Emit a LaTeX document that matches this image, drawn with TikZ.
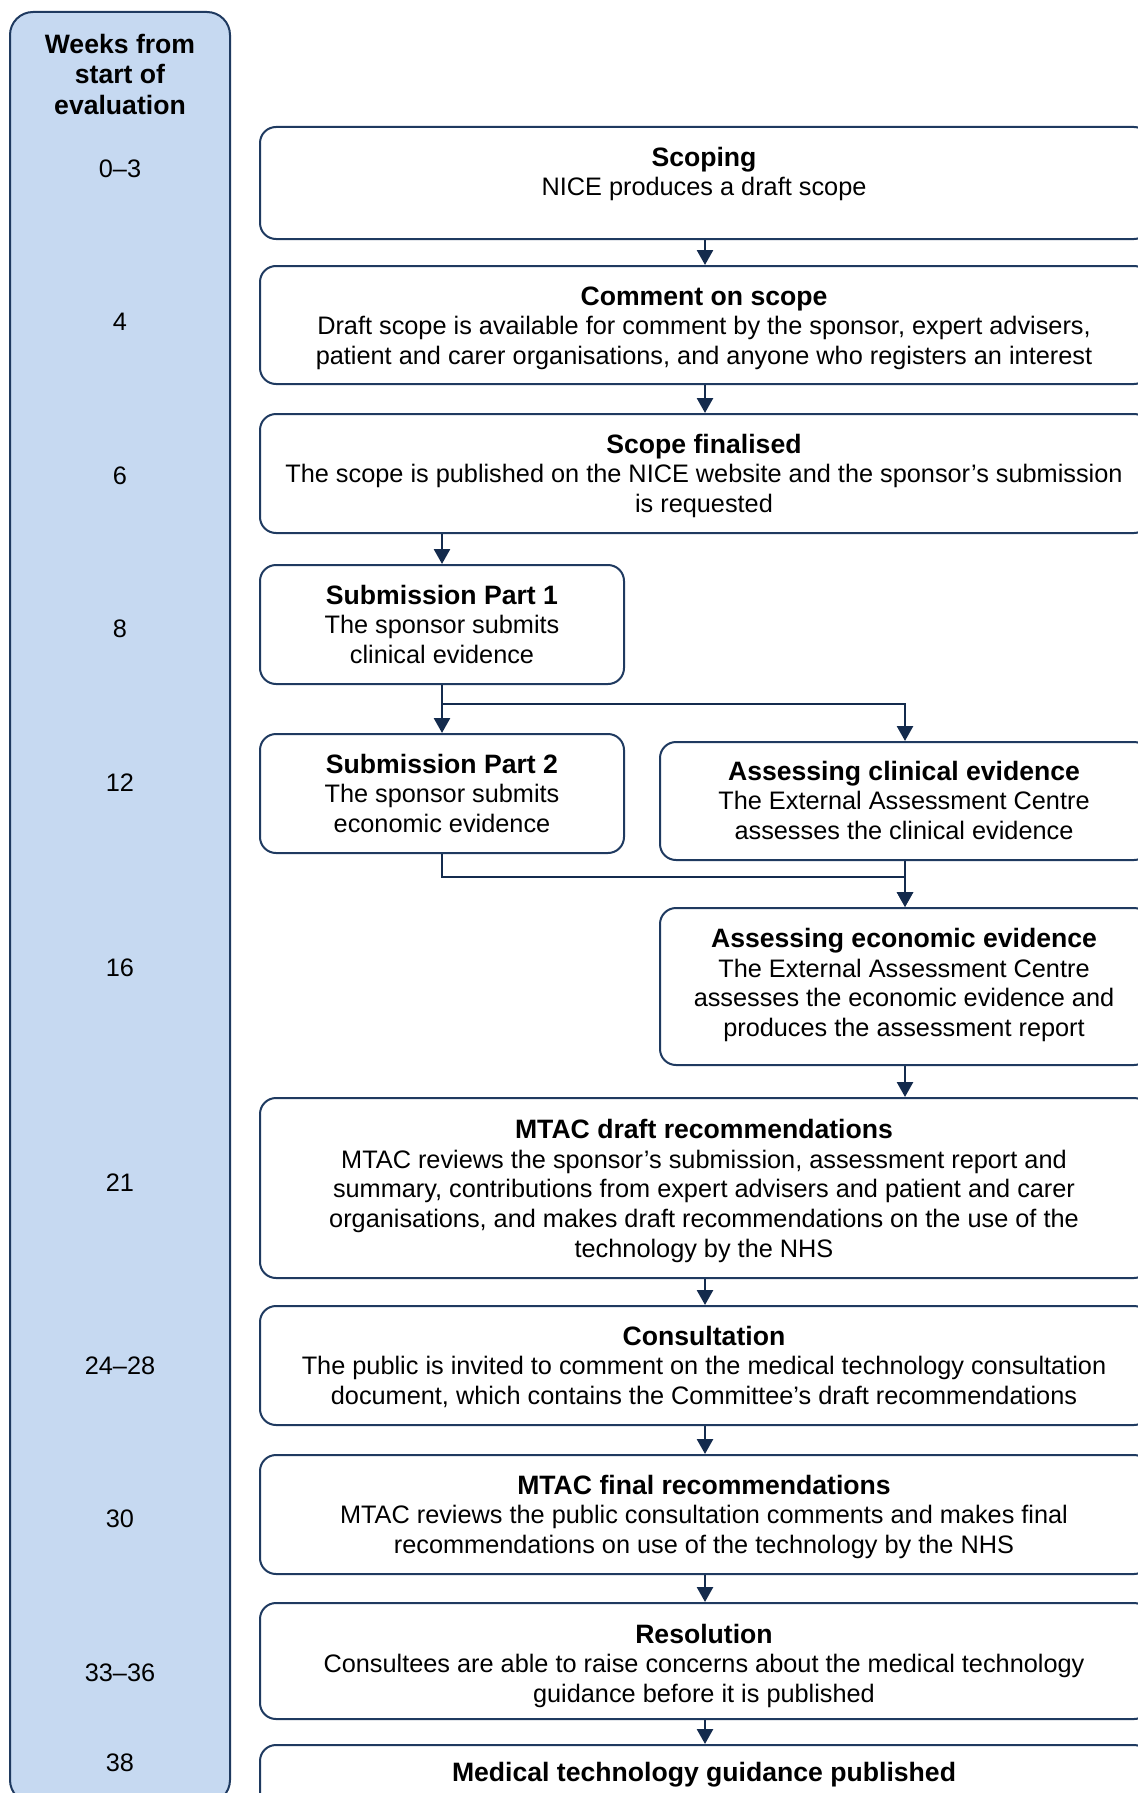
\documentclass[tikz,border=0pt]{standalone}
\usepackage{fontspec}
\setmainfont{Liberation Sans}
\usetikzlibrary{arrows.meta,calc}
\definecolor{navy}{HTML}{1F3A60}
\definecolor{arrowc}{HTML}{142B4D}
\definecolor{colfill}{HTML}{C6D9F1}
\newcommand\boxtitle[1]{{\fontsize{13.3}{14.85}\selectfont\bfseries #1}}
\begin{document}
\begin{tikzpicture}[x=0.5pt,y=-0.5pt,
  font=\fontsize{12.65}{14.85}\selectfont,
  box/.style={draw=navy, line width=1pt, rounded corners=8pt, fill=white, inner sep=0pt},
  colbox/.style={draw=navy, line width=1pt, rounded corners=11.5pt, fill=colfill, inner sep=0pt},
  txt/.style={align=center, anchor=base, inner sep=0pt},
  flow/.style={draw=arrowc, line width=1.35pt, -{Triangle[width=8pt,length=7.5pt]}}]
\useasboundingbox (0,0) rectangle (1137,1793);

% week column
\node[colbox, minimum width=110pt, minimum height=895.5pt] (col) at (120,907.5) {};
\node[txt, font=\bfseries\fontsize{13.3}{15.2}\selectfont] (colhead) at (120,114.3) {Weeks from\\start of\\evaluation};
\node[txt] (w1) at (120,177) {0–3};
\node[txt] (w2) at (120,330) {4};
\node[txt] (w3) at (120,484) {6};
\node[txt] (w4) at (120,637) {8};
\node[txt] (w5) at (120,791) {12};
\node[txt] (w6) at (120,976) {16};
\node[txt] (w7) at (120,1191) {21};
\node[txt] (w8) at (120,1374) {24–28};
\node[txt] (w9) at (120,1527) {30};
\node[txt] (w10) at (120,1681.5) {33–36};
\node[txt] (w11) at (120,1771.5) {38};

% boxes
\node[box, minimum width=445pt, minimum height=56pt] (scope) at (705,183) {};
\node[box, minimum width=445pt, minimum height=59pt] (comment) at (705,325) {};
\node[box, minimum width=445pt, minimum height=59.5pt] (fin) at (705,473.5) {};
\node[box, minimum width=182pt, minimum height=59.5pt] (sub1) at (442,624.5) {};
\node[box, minimum width=182pt, minimum height=59.5pt] (sub2) at (442,793.5) {};
\node[box, minimum width=245pt, minimum height=59pt] (clin) at (905,801) {};
\node[box, minimum width=245pt, minimum height=78.5pt] (econ) at (905,986.5) {};
\node[box, minimum width=445pt, minimum height=90pt] (mtacd) at (705,1188) {};
\node[box, minimum width=445pt, minimum height=59.5pt] (consult) at (705,1365.5) {};
\node[box, minimum width=445pt, minimum height=59.5pt] (mtacf) at (705,1514.5) {};
\node[box, minimum width=445pt, minimum height=58pt] (resol) at (705,1661) {};
\node[box, minimum width=445pt, minimum height=59pt] (pub) at (705,1804) {};

% texts (anchor base = baseline of last line)
\node[txt] (t-scope) at (704,195.7) {\boxtitle{Scoping}\\NICE produces a draft scope};
\node[txt] (t-comment) at (704,364.4) {\boxtitle{Comment on scope}\\Draft scope is available for comment by the sponsor, expert advisers,\\patient and carer organisations, and anyone who registers an interest};
\node[txt] (t-fin) at (704,512.4) {\boxtitle{Scope finalised}\\The scope is published on the NICE website and the sponsor’s submission\\is requested};
\node[txt] (t-sub1) at (442,663.4) {\boxtitle{Submission Part 1}\\The sponsor submits\\clinical evidence};
\node[txt] (t-sub2) at (442,832.4) {\boxtitle{Submission Part 2}\\The sponsor submits\\economic evidence};
\node[txt] (t-clin) at (904,839.4) {\boxtitle{Assessing clinical evidence}\\The External Assessment Centre\\assesses the clinical evidence};
\node[txt] (t-econ) at (904,1036.6) {\boxtitle{Assessing economic evidence}\\The External Assessment Centre\\assesses the economic evidence and\\produces the assessment report};
\node[txt] (t-mtacd) at (704,1257.3) {\boxtitle{MTAC draft recommendations}\\MTAC reviews the sponsor’s submission, assessment report and\\summary, contributions from expert advisers and patient and carer\\organisations, and makes draft recommendations on the use of the\\technology by the NHS};
\node[txt] (t-consult) at (704,1404.4) {\boxtitle{Consultation}\\The public is invited to comment on the medical technology consultation\\document, which contains the Committee’s draft recommendations};
\node[txt] (t-mtacf) at (704,1553.4) {\boxtitle{MTAC final recommendations}\\MTAC reviews the public consultation comments and makes final\\recommendations on use of the technology by the NHS};
\node[txt] (t-resol) at (704,1702.4) {\boxtitle{Resolution}\\Consultees are able to raise concerns about the medical technology\\guidance before it is published};
\node[txt] (t-pub) at (704,1781) {\boxtitle{Medical technology guidance published}};

% connectors
\coordinate (j1) at ($(sub1.south)+(0,19)$);
\coordinate (j2) at ($(sub2.south)+(0,23)$);
\draw[flow] (scope) -- (comment);
\draw[flow] (comment) -- (fin);
\draw[flow] (fin.south -| sub1.north) -- (sub1.north);
\draw[flow] (sub1) -- (sub2);
\draw[flow] (sub1.south) -- (j1) -| (clin.north);
\draw[flow] (sub2.south) -- (j2) -| (econ.north);
\draw[flow] (clin.south) -- (clin.south |- econ.north);
\draw[flow] (econ.south) -- (econ.south |- mtacd.north);
\draw[flow] (mtacd) -- (consult);
\draw[flow] (consult) -- (mtacf);
\draw[flow] (mtacf) -- (resol);
\draw[flow] (resol) -- (pub);
\end{tikzpicture}
\end{document}
